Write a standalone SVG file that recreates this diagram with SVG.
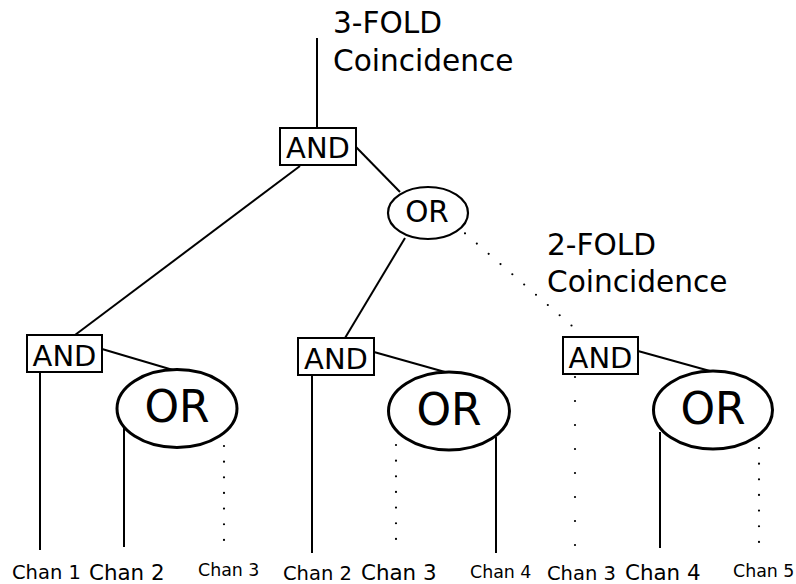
<svg xmlns="http://www.w3.org/2000/svg" width="796" height="584" viewBox="0 0 796 584">
<style>
text{font-family:"DejaVu Sans","Liberation Sans",sans-serif;fill:#000}
.ln{stroke:#000;stroke-width:2;fill:none}
.dot{stroke:#000;stroke-width:2.2;stroke-linecap:round;stroke-dasharray:0 15.65;fill:none}
.dot2{stroke:#000;stroke-width:2.2;stroke-linecap:round;stroke-dasharray:0 24;fill:none}
.box{fill:#fff;stroke:#000;stroke-width:2}
.ov{fill:#fff;stroke:#000;stroke-width:2.2}
.ovb{fill:#fff;stroke:#000;stroke-width:3}
.g{font-size:29px;text-anchor:middle}
.gb{font-size:44px;text-anchor:middle}
.lbl{font-size:29.6px}
.c19{font-size:19.5px}
.c21{font-size:21.4px}
.c17{font-size:17.4px}
</style>
<g id="connectors">
<line class="ln" x1="317" y1="38" x2="317" y2="128"/>
<line class="ln" x1="356" y1="147" x2="400" y2="192"/>
<line class="ln" x1="300" y1="166" x2="75" y2="335"/>
<line class="ln" x1="405" y1="238" x2="345" y2="338"/>
<line class="dot" x1="465" y1="233.3" x2="583.3" y2="335.7"/>
<line class="ln" x1="102" y1="349" x2="173" y2="370"/>
<line class="ln" x1="40" y1="372" x2="40" y2="550"/>
<line class="ln" x1="124" y1="428" x2="124" y2="547"/>
<line class="dot" x1="224" y1="446" x2="224" y2="540"/>
<line class="ln" x1="374" y1="352" x2="445" y2="372"/>
<line class="ln" x1="312" y1="375" x2="312" y2="553"/>
<line class="dot" x1="396" y1="445" x2="396" y2="539"/>
<line class="ln" x1="496" y1="437" x2="496" y2="553"/>
<line class="ln" x1="638" y1="351" x2="710" y2="371"/>
<line class="dot2" x1="575" y1="377" x2="575" y2="546"/>
<line class="ln" x1="660" y1="432" x2="660" y2="548"/>
<line class="dot" x1="759" y1="448" x2="759" y2="542"/>
</g>
<g id="and-top"><rect class="box" x="280" y="128" width="76" height="37"/><text class="g" x="318" y="158">AND</text></g>
<g id="or-top"><ellipse class="ov" cx="428" cy="213" rx="40" ry="26"/><text x="427" y="222" font-size="29.5" text-anchor="middle">OR</text></g>
<g id="and-left"><rect class="box" x="27" y="335" width="75" height="37"/><text class="g" x="64.5" y="366">AND</text></g>
<g id="or-left"><ellipse class="ovb" cx="177" cy="408.5" rx="60" ry="39"/><text class="gb" x="177" y="422">OR</text></g>
<g id="and-mid"><rect class="box" x="298" y="338" width="76" height="37"/><text class="g" x="336" y="369">AND</text></g>
<g id="or-mid"><ellipse class="ovb" cx="449" cy="411" rx="60.5" ry="39"/><text class="gb" x="449" y="424.5">OR</text></g>
<g id="and-right"><rect class="box" x="563" y="337" width="75" height="37"/><text class="g" x="600.5" y="367.5">AND</text></g>
<g id="or-right"><ellipse class="ovb" cx="713" cy="410" rx="59.5" ry="39"/><text class="gb" x="713" y="423.5">OR</text></g>
<g id="label-3fold"><text class="lbl" x="333" y="33">3-FOLD</text><text class="lbl" x="333" y="71">Coincidence</text></g>
<g id="label-2fold"><text class="lbl" x="547" y="255">2-FOLD</text><text class="lbl" x="547" y="292">Coincidence</text></g>
<g id="channels">
<text class="c19" x="12" y="579">Chan 1</text>
<text class="c21" x="89" y="580">Chan 2</text>
<text class="c17" x="198" y="576">Chan 3</text>
<text class="c19" x="283" y="580">Chan 2</text>
<text class="c21" x="361" y="580">Chan 3</text>
<text class="c17" x="470" y="577.5">Chan 4</text>
<text class="c19" x="547" y="580">Chan 3</text>
<text class="c21" x="625" y="580">Chan 4</text>
<text class="c17" x="733" y="576.5">Chan 5</text>
</g>
</svg>
